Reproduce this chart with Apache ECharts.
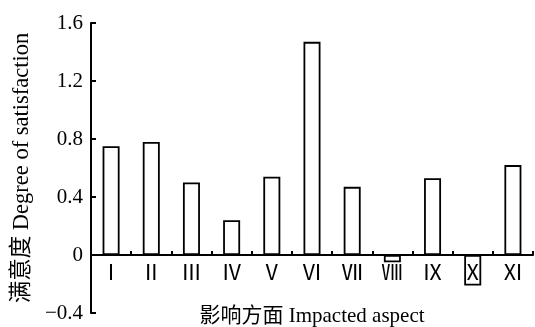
<!DOCTYPE html>
<html>
<head>
<meta charset="utf-8">
<script src="https://cdn.jsdelivr.net/npm/echarts@6/dist/echarts.min.js"></script>
<style>html,body{margin:0;padding:0;background:#fff}#c{width:535px;height:327px}</style>
</head>
<body>
<div id="c"></div>
<script>
const categories = ['Ⅰ','Ⅱ','Ⅲ','Ⅳ','Ⅴ','Ⅵ','Ⅶ','Ⅷ','Ⅸ','Ⅹ','Ⅺ'];
const values = [0.75, 0.78, 0.50, 0.24, 0.54, 1.47, 0.47, -0.05, 0.53, -0.21, 0.62];
const yTicks = [-0.4, 0, 0.4, 0.8, 1.2, 1.6];
const xName = '影响方面 Impacted aspect';
const yName = '满意度 Degree of satisfaction';

const W = 535, H = 327;
const G = {left: 91, right: 2, top: 23, bottom: 14};
const yMin = yTicks[0], yMax = yTicks[yTicks.length - 1];
const gridH = H - G.top - G.bottom;
// move the category axis (line, labels, name) up to the zero level
const zeroOffset = -gridH * (0 - yMin) / (yMax - yMin);

const serif = "'Liberation Serif', 'DejaVu Serif', 'Noto Sans CJK SC', serif";
const numFont = "'Noto Sans CJK SC', 'Liberation Serif', serif";
const chart = echarts.init(document.getElementById('c'));
chart.setOption({
  animation: false,
  grid: Object.assign({containLabel: false, outerBoundsMode: 'none'}, G),
  xAxis: {
    type: 'category',
    data: categories,
    position: 'bottom',
    offset: zeroOffset,
    name: xName,
    nameLocation: 'middle',
    nameGap: 51,
    nameTextStyle: {fontFamily: serif, fontSize: 21, color: '#000'},
    axisLine: {onZero: false, lineStyle: {color: '#000', width: 2}},
    axisTick: {show: true, inside: true, length: 4, lineStyle: {color: '#000', width: 2}},
    axisLabel: {fontFamily: numFont, fontSize: 21, color: '#000', margin: 7},
    z: 5
  },
  yAxis: {
    type: 'value',
    min: yMin,
    max: yMax,
    interval: 0.4,
    name: yName,
    nameLocation: 'middle',
    nameGap: 58,
    nameTextStyle: {fontFamily: serif, fontSize: 22.5, color: '#000'},
    axisLine: {show: true, lineStyle: {color: '#000', width: 2}},
    axisTick: {show: true, inside: true, length: 5, lineStyle: {color: '#000', width: 2}},
    splitLine: {show: false},
    axisLabel: {
      fontFamily: serif, fontSize: 21, color: '#000', margin: 8,
      formatter: v => Math.abs(v) < 1e-9 ? '0' : (v < 0 ? '\u2212' + Math.abs(v).toFixed(1) : v.toFixed(1))
    }
  },
  series: [{
    type: 'bar',
    data: values,
    barWidth: 17,
    itemStyle: {color: 'rgba(0,0,0,0)', borderColor: '#000', borderWidth: 1.8}
  }]
});
</script>
</body>
</html>
